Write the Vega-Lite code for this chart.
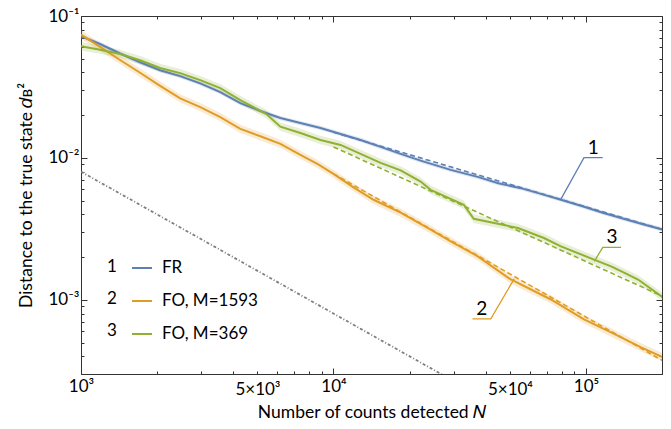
{
  "$schema": "https://vega.github.io/schema/vega-lite/v6.json",
  "width": 581,
  "height": 358,
  "autosize": "none",
  "padding": {"left": 81, "top": 16, "right": 9, "bottom": 55},
  "background": "white",
  "config": {
    "font": "Lato",
    "view": {"stroke": null},
    "axis": {"grid": false, "domainColor": "#333", "tickColor": "#333", "labelColor": "black", "titleColor": "black", "labelFontSize": 17, "titleFontSize": 17.5, "titleFontWeight": "normal", "labelFont": "Lato", "titleFont": "Lato", "labelOverlap": false, "labelFlush": false, "tickWidth": 1},
    "legend": {"padding": 0, "labelFont": "Lato", "labelFontSize": 17, "labelColor": "black", "rowPadding": 14, "symbolSize": 400}
  },
  "datasets": {
    "curves": [
      {"s": "1", "N": 1000, "d": 0.0720, "lo": 0.0696, "hi": 0.0745},
      {"s": "1", "N": 1190, "d": 0.0635, "lo": 0.0614, "hi": 0.0657},
      {"s": "1", "N": 1428, "d": 0.0544, "lo": 0.0526, "hi": 0.0563},
      {"s": "1", "N": 1714, "d": 0.0472, "lo": 0.0456, "hi": 0.0489},
      {"s": "1", "N": 2058, "d": 0.0415, "lo": 0.0401, "hi": 0.0430},
      {"s": "1", "N": 2471, "d": 0.0377, "lo": 0.0364, "hi": 0.0390},
      {"s": "1", "N": 2967, "d": 0.0335, "lo": 0.0324, "hi": 0.0347},
      {"s": "1", "N": 3561, "d": 0.0291, "lo": 0.0281, "hi": 0.0301},
      {"s": "1", "N": 4276, "d": 0.02435, "lo": 0.02353, "hi": 0.0252},
      {"s": "1", "N": 5133, "d": 0.0214, "lo": 0.0207, "hi": 0.0221},
      {"s": "1", "N": 6162, "d": 0.0191, "lo": 0.01845, "hi": 0.01977},
      {"s": "1", "N": 7396, "d": 0.0176, "lo": 0.0170, "hi": 0.0182},
      {"s": "1", "N": 8880, "d": 0.01625, "lo": 0.0157, "hi": 0.01682},
      {"s": "1", "N": 10660, "d": 0.01475, "lo": 0.01425, "hi": 0.01527},
      {"s": "1", "N": 12800, "d": 0.01338, "lo": 0.01293, "hi": 0.01385},
      {"s": "1", "N": 15370, "d": 0.01195, "lo": 0.01155, "hi": 0.01237},
      {"s": "1", "N": 18450, "d": 0.01067, "lo": 0.01031, "hi": 0.01104},
      {"s": "1", "N": 22140, "d": 0.00957, "lo": 0.00925, "hi": 0.00990},
      {"s": "1", "N": 29130, "d": 0.00823, "lo": 0.00795, "hi": 0.00852},
      {"s": "1", "N": 37270, "d": 0.00735, "lo": 0.0071, "hi": 0.00761},
      {"s": "1", "N": 45000, "d": 0.00662, "lo": 0.0064, "hi": 0.00685},
      {"s": "1", "N": 55210, "d": 0.00612, "lo": 0.00591, "hi": 0.00633},
      {"s": "1", "N": 66300, "d": 0.00558, "lo": 0.00539, "hi": 0.00578},
      {"s": "1", "N": 79580, "d": 0.00507, "lo": 0.0049, "hi": 0.00525},
      {"s": "1", "N": 98200, "d": 0.00453, "lo": 0.00438, "hi": 0.00469},
      {"s": "1", "N": 116500, "d": 0.00411, "lo": 0.00397, "hi": 0.00425},
      {"s": "1", "N": 137700, "d": 0.00377, "lo": 0.00364, "hi": 0.0039},
      {"s": "1", "N": 165300, "d": 0.00344, "lo": 0.00332, "hi": 0.00356},
      {"s": "1", "N": 202100, "d": 0.00312, "lo": 0.00301, "hi": 0.00323},
      {"s": "2", "N": 1000, "d": 0.0740, "lo": 0.0692, "hi": 0.0792},
      {"s": "2", "N": 1190, "d": 0.0606, "lo": 0.0566, "hi": 0.0648},
      {"s": "2", "N": 1428, "d": 0.0490, "lo": 0.0458, "hi": 0.0524},
      {"s": "2", "N": 1714, "d": 0.0398, "lo": 0.0372, "hi": 0.0426},
      {"s": "2", "N": 2058, "d": 0.0322, "lo": 0.0301, "hi": 0.0345},
      {"s": "2", "N": 2471, "d": 0.0263, "lo": 0.0246, "hi": 0.0281},
      {"s": "2", "N": 2967, "d": 0.0228, "lo": 0.0213, "hi": 0.0244},
      {"s": "2", "N": 3561, "d": 0.0194, "lo": 0.0181, "hi": 0.0208},
      {"s": "2", "N": 4276, "d": 0.0160, "lo": 0.0150, "hi": 0.0171},
      {"s": "2", "N": 5133, "d": 0.01420, "lo": 0.01327, "hi": 0.0152},
      {"s": "2", "N": 6162, "d": 0.01255, "lo": 0.01173, "hi": 0.01343},
      {"s": "2", "N": 7396, "d": 0.0105, "lo": 0.00981, "hi": 0.01124},
      {"s": "2", "N": 8700, "d": 0.00900, "lo": 0.00841, "hi": 0.00963},
      {"s": "2", "N": 10000, "d": 0.00772, "lo": 0.00721, "hi": 0.00826},
      {"s": "2", "N": 12000, "d": 0.00620, "lo": 0.0058, "hi": 0.00663},
      {"s": "2", "N": 14410, "d": 0.00507, "lo": 0.00474, "hi": 0.00542},
      {"s": "2", "N": 18450, "d": 0.00411, "lo": 0.00384, "hi": 0.0044},
      {"s": "2", "N": 24260, "d": 0.00312, "lo": 0.00292, "hi": 0.00334},
      {"s": "2", "N": 29130, "d": 0.00258, "lo": 0.00241, "hi": 0.00276},
      {"s": "2", "N": 37270, "d": 0.002025, "lo": 0.00189, "hi": 0.00217},
      {"s": "2", "N": 50400, "d": 0.00139, "lo": 0.0013, "hi": 0.00149},
      {"s": "2", "N": 72630, "d": 0.001005, "lo": 0.00094, "hi": 0.001075},
      {"s": "2", "N": 98200, "d": 0.000727, "lo": 0.00068, "hi": 0.000778},
      {"s": "2", "N": 125700, "d": 0.000589, "lo": 0.00055, "hi": 0.00063},
      {"s": "2", "N": 165300, "d": 0.000462, "lo": 0.000432, "hi": 0.000494},
      {"s": "2", "N": 202100, "d": 0.000393, "lo": 0.000367, "hi": 0.00042},
      {"s": "3", "N": 1000, "d": 0.0612, "lo": 0.0572, "hi": 0.0655},
      {"s": "3", "N": 1190, "d": 0.0579, "lo": 0.0541, "hi": 0.0620},
      {"s": "3", "N": 1428, "d": 0.0540, "lo": 0.0505, "hi": 0.0578},
      {"s": "3", "N": 1714, "d": 0.0488, "lo": 0.0456, "hi": 0.0522},
      {"s": "3", "N": 2058, "d": 0.0430, "lo": 0.0402, "hi": 0.0460},
      {"s": "3", "N": 2471, "d": 0.0396, "lo": 0.0370, "hi": 0.0424},
      {"s": "3", "N": 2967, "d": 0.0353, "lo": 0.0330, "hi": 0.0378},
      {"s": "3", "N": 3561, "d": 0.0310, "lo": 0.0290, "hi": 0.0332},
      {"s": "3", "N": 4276, "d": 0.02557, "lo": 0.0239, "hi": 0.02736},
      {"s": "3", "N": 5421, "d": 0.02038, "lo": 0.01905, "hi": 0.02181},
      {"s": "3", "N": 6162, "d": 0.0166, "lo": 0.01551, "hi": 0.01776},
      {"s": "3", "N": 7396, "d": 0.01498, "lo": 0.014, "hi": 0.01603},
      {"s": "3", "N": 8880, "d": 0.01338, "lo": 0.0125, "hi": 0.01432},
      {"s": "3", "N": 10660, "d": 0.01234, "lo": 0.01153, "hi": 0.0132},
      {"s": "3", "N": 15370, "d": 0.00923, "lo": 0.00863, "hi": 0.00988},
      {"s": "3", "N": 18450, "d": 0.00817, "lo": 0.00764, "hi": 0.00874},
      {"s": "3", "N": 22140, "d": 0.00681, "lo": 0.00636, "hi": 0.00729},
      {"s": "3", "N": 24260, "d": 0.005958, "lo": 0.00557, "hi": 0.00638},
      {"s": "3", "N": 32800, "d": 0.004673, "lo": 0.00437, "hi": 0.005},
      {"s": "3", "N": 35940, "d": 0.003726, "lo": 0.00348, "hi": 0.00399},
      {"s": "3", "N": 53740, "d": 0.003206, "lo": 0.003, "hi": 0.00343},
      {"s": "3", "N": 68130, "d": 0.002727, "lo": 0.00255, "hi": 0.00292},
      {"s": "3", "N": 79580, "d": 0.00238, "lo": 0.00222, "hi": 0.00255},
      {"s": "3", "N": 107600, "d": 0.00192, "lo": 0.00179, "hi": 0.00205},
      {"s": "3", "N": 125700, "d": 0.001722, "lo": 0.00161, "hi": 0.00184},
      {"s": "3", "N": 141500, "d": 0.001555, "lo": 0.00145, "hi": 0.00166},
      {"s": "3", "N": 160800, "d": 0.001389, "lo": 0.0013, "hi": 0.00149},
      {"s": "3", "N": 202100, "d": 0.001038, "lo": 0.00097, "hi": 0.00111}
    ],
    "fits": [
      {"s": "1", "N": 10000, "d": 0.01518},
      {"s": "1", "N": 202100, "d": 0.00312},
      {"s": "2", "N": 10000, "d": 0.00772},
      {"s": "2", "N": 202100, "d": 0.000371},
      {"s": "3", "N": 10000, "d": 0.01195},
      {"s": "3", "N": 202100, "d": 0.001054}
    ],
    "reference": [
      {"N": 1000, "d": 0.008},
      {"N": 30000, "d": 0.0002667}
    ],
    "calloutLines": [
      {"s": "1", "k": 0, "N": 79580, "d": 0.005125},
      {"s": "1", "k": 1, "N": 98170, "d": 0.01005},
      {"s": "1", "k": 2, "N": 116500, "d": 0.01005},
      {"s": "2", "k": 0, "N": 51950, "d": 0.001405},
      {"s": "2", "k": 1, "N": 41980, "d": 0.000735},
      {"s": "2", "k": 2, "N": 35520, "d": 0.000735},
      {"s": "3", "k": 0, "N": 107900, "d": 0.001867},
      {"s": "3", "k": 1, "N": 116500, "d": 0.002342},
      {"s": "3", "k": 2, "N": 137700, "d": 0.002342}
    ],
    "calloutText": [
      {"label": "1", "N": 106900, "d": 0.01005},
      {"label": "2", "N": 38670, "d": 0.000735},
      {"label": "3", "N": 126900, "d": 0.002342}
    ]
  },
  "resolve": {"axis": {"x": "independent", "y": "independent"}},
  "layer": [
    {
      "data": {"name": "curves"},
      "mark": {"type": "area", "opacity": 0.2, "clip": true},
      "encoding": {
        "x": {"field": "N", "type": "quantitative", "scale": {"type": "log", "domain": [1000, 200000], "nice": false}, "axis": null},
        "y": {"field": "lo", "type": "quantitative", "scale": {"type": "log", "domain": [0.0003, 0.1], "nice": false}, "axis": null},
        "y2": {"field": "hi"},
        "fill": {"field": "s", "type": "nominal", "scale": {"range": ["#5E81B5", "#E19C24", "#8FB032"]}, "legend": null}
      }
    },
    {
      "data": {"name": "reference"},
      "mark": {"type": "line", "color": "#7f7f7f", "strokeWidth": 1.8, "strokeDash": [3, 2, 1, 2], "clip": true},
      "encoding": {
        "x": {"field": "N", "type": "quantitative", "scale": {"type": "log", "domain": [1000, 200000], "nice": false},
          "axis": {"orient": "top", "labels": false, "title": null, "values": [1000, 2000, 3000, 4000, 5000, 6000, 7000, 8000, 9000, 10000, 20000, 30000, 40000, 50000, 60000, 70000, 80000, 90000, 100000, 200000],
            "tickSize": {"condition": {"test": "datum.value==1000||datum.value==10000||datum.value==100000", "value": -6}, "value": -3}}},
        "y": {"field": "d", "type": "quantitative", "scale": {"type": "log", "domain": [0.0003, 0.1], "nice": false},
          "axis": {"orient": "right", "labels": false, "title": null, "values": [0.0003, 0.0004, 0.0005, 0.0006, 0.0007, 0.0008, 0.0009, 0.001, 0.002, 0.003, 0.004, 0.005, 0.006, 0.007, 0.008, 0.009, 0.01, 0.02, 0.03, 0.04, 0.05, 0.06, 0.07, 0.08, 0.09, 0.1],
            "tickSize": {"condition": {"test": "datum.value==0.1||datum.value==0.01||datum.value==0.001", "value": -6}, "value": -3}}}
      }
    },
    {
      "data": {"name": "curves"},
      "mark": {"type": "line", "strokeWidth": 2, "clip": true},
      "encoding": {
        "x": {"field": "N", "type": "quantitative", "scale": {"type": "log", "domain": [1000, 200000], "nice": false},
          "axis": {"orient": "bottom", "title": "Number of counts detected 𝑁", "titlePadding": 6, "labelPadding": 10,
            "values": [1000, 2000, 3000, 4000, 5000, 6000, 7000, 8000, 9000, 10000, 20000, 30000, 40000, 50000, 60000, 70000, 80000, 90000, 100000, 200000],
            "labelExpr": "datum.value==1000?'10³':datum.value==5000?'5×10³':datum.value==10000?'10⁴':datum.value==50000?'5×10⁴':datum.value==100000?'10⁵':''",
            "tickSize": {"condition": {"test": "datum.value==1000||datum.value==10000||datum.value==100000", "value": -6}, "value": -3}}},
        "y": {"field": "d", "type": "quantitative", "scale": {"type": "log", "domain": [0.0003, 0.1], "nice": false},
          "axis": {"orient": "left", "title": "Distance to the true state 𝑑ʙ²", "titlePadding": 12, "labelPadding": 8,
            "values": [0.0003, 0.0004, 0.0005, 0.0006, 0.0007, 0.0008, 0.0009, 0.001, 0.002, 0.003, 0.004, 0.005, 0.006, 0.007, 0.008, 0.009, 0.01, 0.02, 0.03, 0.04, 0.05, 0.06, 0.07, 0.08, 0.09, 0.1],
            "labelExpr": "datum.value==0.1?'10⁻¹':datum.value==0.01?'10⁻²':datum.value==0.001?'10⁻³':''",
            "tickSize": {"condition": {"test": "datum.value==0.1||datum.value==0.01||datum.value==0.001", "value": -6}, "value": -3}}},
        "color": {"field": "s", "type": "nominal", "scale": {"domain": ["1", "2", "3"], "range": ["#5E81B5", "#E19C24", "#8FB032"]},
          "legend": {"orient": "none", "legendX": 50, "legendY": 241, "title": null,
            "symbolType": "stroke", "symbolSize": 400, "symbolStrokeWidth": 2, "labelOffset": 9,
            "labelExpr": "datum.label=='1'?'FR':datum.label=='2'?'FO, M=1593':'FO, M=369'"}}
      }
    },
    {
      "data": {"name": "fits"},
      "mark": {"type": "line", "strokeWidth": 1.6, "strokeDash": [5, 3], "clip": true},
      "encoding": {
        "x": {"field": "N", "type": "quantitative", "scale": {"type": "log", "domain": [1000, 200000], "nice": false}, "axis": null},
        "y": {"field": "d", "type": "quantitative", "scale": {"type": "log", "domain": [0.0003, 0.1], "nice": false}, "axis": null},
        "stroke": {"field": "s", "type": "nominal", "scale": {"range": ["#5E81B5", "#E19C24", "#8FB032"]}, "legend": null}
      }
    },
    {
      "data": {"name": "calloutLines"},
      "mark": {"type": "line", "strokeWidth": 1.3, "clip": true},
      "encoding": {
        "x": {"field": "N", "type": "quantitative", "scale": {"type": "log", "domain": [1000, 200000], "nice": false}, "axis": null},
        "y": {"field": "d", "type": "quantitative", "scale": {"type": "log", "domain": [0.0003, 0.1], "nice": false}, "axis": null},
        "order": {"field": "k"},
        "stroke": {"field": "s", "type": "nominal", "legend": null}
      }
    },
    {
      "data": {"name": "calloutText"},
      "mark": {"type": "text", "fontSize": 19, "font": "Lato", "color": "black", "baseline": "alphabetic", "dy": -4, "align": "center"},
      "encoding": {
        "x": {"field": "N", "type": "quantitative", "scale": {"type": "log", "domain": [1000, 200000], "nice": false}, "axis": null},
        "y": {"field": "d", "type": "quantitative", "scale": {"type": "log", "domain": [0.0003, 0.1], "nice": false}, "axis": null},
        "text": {"field": "label"},
        "opacity": {"field": "label", "type": "ordinal", "scale": {"range": [1, 1, 1]},
          "legend": {"orient": "none", "legendX": 6, "legendY": 241, "title": null, "symbolOpacity": 0, "symbolStrokeWidth": 0, "symbolSize": 400, "symbolType": "stroke", "labelOffset": 0}}
      }
    }
  ]
}
